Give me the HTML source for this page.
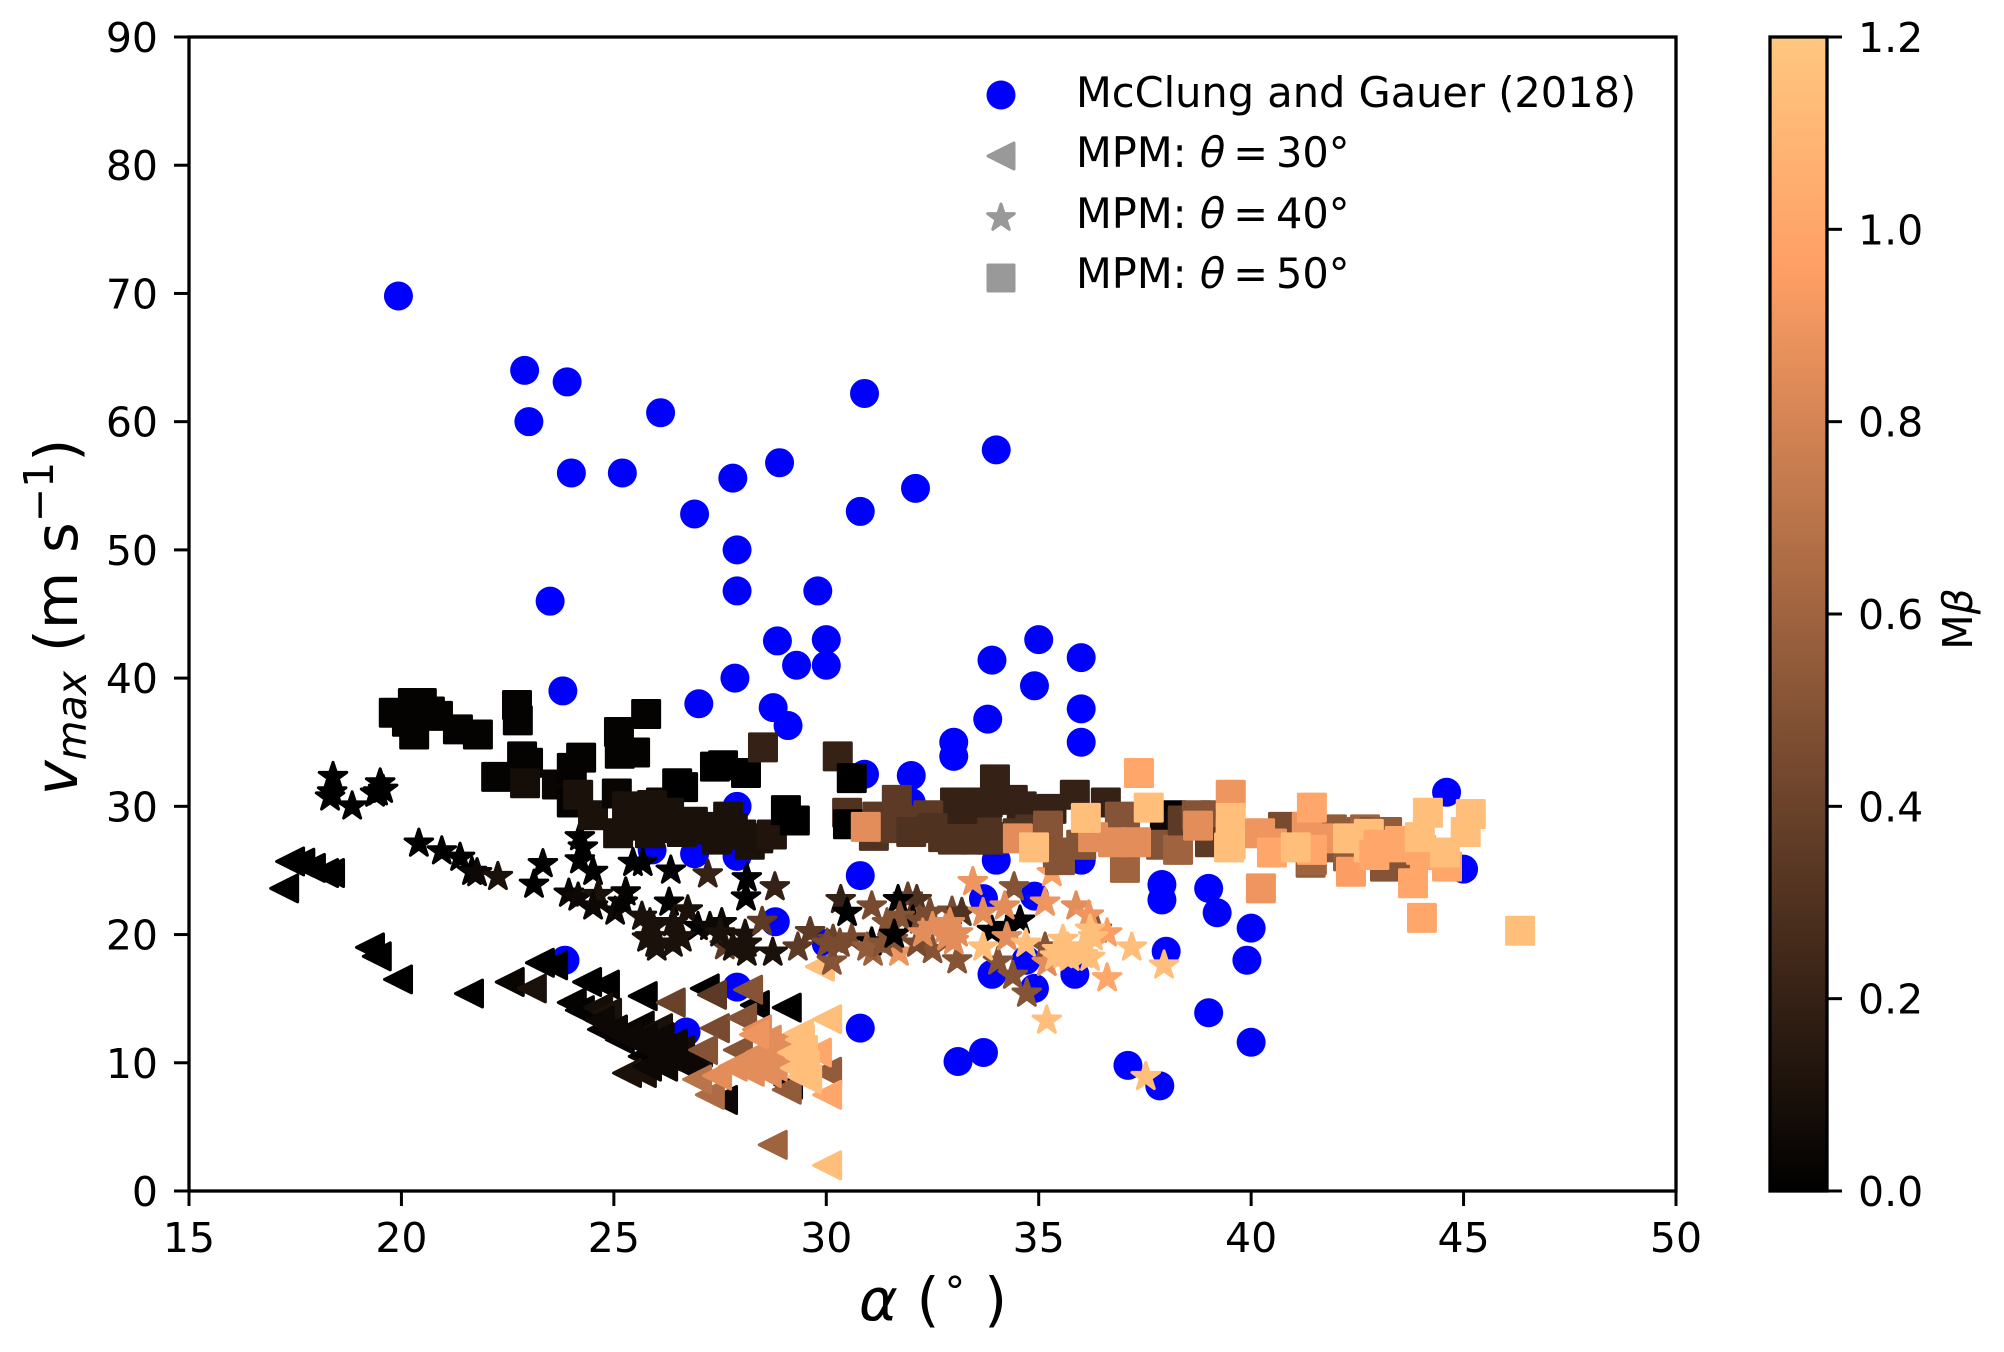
<!DOCTYPE html>
<html lang="en">
<head>
<meta charset="utf-8">
<title>Maximum velocity against runout angle</title>
<style>
html,body{margin:0;padding:0;background:#fff;}
svg{display:block;}
text{font-family:"DejaVu Sans","Liberation Sans",sans-serif;fill:#000;}
</style>
</head>
<body>
<svg id="chart" xmlns="http://www.w3.org/2000/svg" width="2004" height="1352" viewBox="0 0 2004 1352">
  <defs>
    <linearGradient id="copper" x1="0" y1="1" x2="0" y2="0">
      <stop offset="0" stop-color="#000000"/>
      <stop offset="0.8" stop-color="#ff9f65"/>
      <stop offset="1" stop-color="#ffc77f"/>
    </linearGradient>
  </defs>
  <g id="marks"></g>
  <rect x="189" y="37" width="1487" height="1154" fill="none" stroke="#000" stroke-width="3.3"/>
  <g id="xticks"></g>
  <g id="yticks"></g>
  <text x="933" y="1320" font-size="59" text-anchor="middle"><tspan font-style="italic">α</tspan> (<tspan dy="-14" dx="5" font-size="41">°</tspan><tspan dy="14" dx="19">)</tspan></text>
  <text transform="translate(77,617) rotate(-90)" font-size="59" text-anchor="middle"><tspan font-style="italic">v</tspan><tspan font-style="italic" font-size="41" dy="9">max</tspan><tspan dy="-9"> (m s</tspan><tspan font-size="41" dy="-24">−1</tspan><tspan dy="24">)</tspan></text>
  <g>
    <circle cx="1001" cy="95" r="14.5" fill="#0000ff"/>
    <path d="M988 156L1014 143L1014 169Z" fill="#999" stroke="#999" stroke-width="3" stroke-linejoin="round"/>
    <path id="legendStar" fill="#999" stroke="#999" stroke-width="3" stroke-linejoin="round"/>
    <rect x="988" y="265" width="26" height="26" fill="#999" stroke="#999" stroke-width="3" stroke-linejoin="round"/>
    <text x="1076" y="107" font-size="41.5">McClung and Gauer (2018)</text>
    <text x="1076" y="167" font-size="41.5">MPM: <tspan font-style="italic">θ</tspan><tspan dx="8">=</tspan><tspan dx="8">30°</tspan></text>
    <text x="1076" y="228" font-size="41.5">MPM: <tspan font-style="italic">θ</tspan><tspan dx="8">=</tspan><tspan dx="8">40°</tspan></text>
    <text x="1076" y="288" font-size="41.5">MPM: <tspan font-style="italic">θ</tspan><tspan dx="8">=</tspan><tspan dx="8">50°</tspan></text>
  </g>
  <rect x="1770" y="37" width="57" height="1154" fill="url(#copper)" stroke="#000" stroke-width="3.3"/>
  <g id="cticks"></g>
  <text transform="translate(1972,619) rotate(-90)" font-size="41" text-anchor="middle">M<tspan font-style="italic">β</tspan></text>
</svg>
<script>
const xTickLabels = [15,20,25,30,35,40,45,50];
const yTickLabels = [0,10,20,30,40,50,60,70,80,90];
const colorTickLabels = ["0.0","0.2","0.4","0.6","0.8","1.0","1.2"];

const mcclungAlpha = [19.93,22.9,23.9,23.0,24.0,25.2,26.1,26.9,27.8,28.9,30.9,30.8,32.1,34.0,23.5,27.9,27.9,29.8,28.85,30.0,29.3,30.0,23.8,27.0,27.85,28.75,29.1,33.9,35.0,34.9,36.0,36.0,36.0,33.0,33.0,33.8,30.9,32.0,32.0,27.9,44.6,45.0,37.9,37.9,39.0,39.2,40.0,39.9,38.0,39.0,40.0,37.1,37.85,33.1,33.7,30.8,36.0,34.0,28.8,23.85,27.9,26.7,33.7,34.9,33.9,34.9,35.85,30.0,34.7,25.9,26.9,27.9,30.8];
const mcclungSpeed = [69.8,64.0,63.1,60.0,56.0,56.0,60.7,52.8,55.6,56.8,62.2,53.0,54.8,57.8,46.0,50.0,46.8,46.8,42.9,43.0,41.0,41.0,39.0,38.0,40.0,37.7,36.3,41.4,43.0,39.4,41.6,37.6,35.0,35.0,33.9,36.8,32.5,32.4,30.3,30.0,31.1,25.1,23.9,22.7,23.6,21.7,20.5,18.0,18.7,13.9,11.6,9.8,8.2,10.1,10.8,12.7,25.8,25.8,21.0,18.0,15.9,12.4,22.8,23.0,16.9,15.8,16.9,19.3,18.0,26.6,26.3,26.1,24.6];

const triAlpha = [17.38,17.87,18.18,18.32,17.24,17.62,19.26,19.42,19.92,21.59,22.55,23.26,23.57,24.37,24.79,25.68,27.14,24.01,24.2,24.72,25.61,25.14,25.68,26.04,26.25,29.07,28.32,27.57,29.1,23.07,24.63,24.84,26.04,25.31,25.66,26.56,26.98,24.67,24.98,25.31,25.61,25.92,26.25,26.56,26.86,25.68,26.08,26.39,25.78,26.16,26.34,27.31,27.38,28.02,28.16,27.1,27.92,27.26,26.96,28.74,29.07,30.02,29.85,29.78,30.02,27.43,28.2,28.74,28.98,27.8,28.27,28.6,28.37,28.9,29.07,28.44,28.6,28.3,30.02,29.2,29.45,29.38,29.55,29.26,29.5,29.36,30.02,29.38,29.43];
const triSpeed = [25.7,25.2,24.8,24.8,23.6,25.6,19.0,18.3,16.5,15.4,16.3,17.8,17.6,16.3,16.1,15.2,15.8,14.7,14.1,12.6,12.9,11.8,10.5,11.2,11.0,14.3,14.5,7.1,8.3,15.8,14.3,13.9,12.7,9.2,9.2,11.0,10.8,13.3,12.6,12.0,11.5,11.0,10.5,10.0,9.7,12.0,12.0,11.5,9.7,9.7,14.7,15.3,12.7,13.5,15.7,11.0,11.0,7.5,8.7,3.6,7.9,9.3,17.5,10.8,7.5,9.0,9.3,9.7,10.8,9.7,10.2,11.8,12.6,11.5,10.0,10.8,9.2,12.2,2.0,10.8,11.0,11.8,8.7,9.6,9.8,12.3,13.4,10.4,8.9];
const triBeta = [0,0,0,0,0,0,0,0,0,0,0.03,0,0,0,0,0,0,0.02,0.02,0.02,0.03,0.02,0.02,0.03,0.05,0,0,0.05,0,0.1,0.08,0.1,0.1,0.1,0.1,0.08,0.1,0.05,0.05,0.05,0.05,0.05,0.05,0.05,0.05,0.05,0.05,0.05,0.05,0.05,0.4,0.35,0.45,0.5,0.5,0.5,0.5,0.65,0.7,0.6,0.55,0.55,1.15,1.0,1.0,0.85,0.85,0.85,0.85,0.85,0.85,0.85,0.85,0.85,0.85,0.85,0.85,0.9,1.15,1.15,1.15,1.15,1.15,1.15,1.15,1.15,1.15,1.15,1.15];

const starAlpha = [18.39,18.37,18.32,18.84,19.5,19.45,19.38,19.57,20.41,20.95,21.38,21.66,21.78,22.27,23.33,23.12,24.2,24.27,24.2,24.51,23.94,24.16,24.63,24.51,25.03,25.28,25.21,25.66,25.92,25.78,25.97,26.6,26.3,25.45,25.68,26.34,27.21,28.13,28.11,28.79,26.74,26.98,27.54,27.26,27.61,28.09,28.13,28.49,28.74,29.33,29.62,30.13,30.16,30.6,30.34,31.71,31.07,31.1,30.49,31.07,31.92,32.13,31.55,31.57,31.69,32.04,32.44,32.96,33.19,33.08,34.56,34.04,34.39,34.72,34.42,25.85,25.85,26.39,26.56,26.39,26.01,27.5,28.13,27.8,30.02,30.32,30.96,31.33,31.43,31.73,32.2,32.5,32.13,33.9,34.28,31.6,35.15,36.37,32.8,33.1,32.5,33.0,32.27,32.84,32.91,33.69,34.2,34.25,33.45,35.31,35.15,35.88,36.18,35.19,36.61,33.69,34.7,36.21,36.61,35.38,35.57,35.69,36.04,37.19,37.95,35.43,35.73,36.04,36.21,36.28,35.57,35.19,37.52];
const starSpeed = [32.3,31.1,30.7,30.0,31.8,31.1,31.0,31.3,27.1,26.5,26.0,24.9,24.8,24.5,25.5,23.9,27.6,26.8,25.8,24.9,23.2,22.9,23.1,22.2,21.8,23.3,22.5,21.4,20.6,19.7,19.3,19.7,22.5,25.6,25.6,25.0,24.7,24.4,22.9,23.7,21.9,20.6,20.9,20.6,19.1,20.0,18.6,21.0,18.6,19.0,20.2,17.9,19.6,19.7,22.7,18.6,22.2,18.6,21.7,19.4,22.9,22.7,20.7,19.6,22.7,21.1,21.7,21.8,21.7,18.0,21.1,17.9,16.8,15.4,23.7,20.9,19.8,20.9,19.8,19.3,19.0,20.1,19.3,19.0,19.3,19.3,19.0,19.3,20.9,21.4,21.1,18.8,19.3,20.3,20.6,20.0,19.0,20.4,20.4,20.1,20.6,19.5,20.1,19.8,20.9,21.7,22.2,19.8,24.1,24.8,22.5,22.2,21.5,17.8,20.1,19.0,19.3,20.4,16.6,18.3,18.4,19.0,18.4,19.0,17.6,18.8,18.2,19.0,18.2,19.8,19.6,13.3,8.9];
const starBeta = [0,0,0,0,0,0,0,0,0,0,0,0,0.05,0.1,0,0,0,0,0,0,0.03,0.05,0.1,0.05,0.05,0.02,0.02,0.1,0.1,0.1,0.1,0.1,0,0,0,0,0.2,0,0,0.2,0.1,0,0.05,0.05,0.35,0.1,0.1,0.35,0.1,0.35,0.35,0.5,0.4,0.45,0.2,0.9,0.45,0.6,0,0,0.4,0.3,0.5,0.5,0,0,0.45,0.45,0.3,0.5,0,0.5,0.5,0.5,0.5,0.1,0.1,0.1,0.1,0.1,0.1,0.1,0.1,0.1,0.45,0.45,0.55,0.5,0.5,0.5,0.45,0.5,0.45,0,0,0,0.5,0.5,0.85,0.85,0.85,0.85,0.85,0.85,0.85,0.85,0.85,0.85,0.9,0.95,0.9,0.85,0.9,0.85,0.95,1.15,1.15,1.15,1.0,1.15,1.15,1.15,1.15,1.15,1.15,1.15,1.15,1.15,1.15,1.15,1.15,1.15,1.15,1.0];

const squareAlpha = [19.82,20.27,20.48,20.86,20.13,20.3,20.67,21.33,21.8,22.72,22.74,22.84,22.98,22.23,22.91,23.66,24.01,24.23,24.01,24.16,24.51,25.07,25.31,25.1,25.12,25.76,25.5,25.14,26.11,25.85,26.49,26.63,27.38,27.57,28.11,28.51,26.86,27.69,27.43,28.2,25.6,26.0,26.3,26.6,27.0,27.2,27.8,28.0,28.4,26.3,25.6,25.9,28.72,29.05,29.26,30.27,30.6,30.49,30.51,31.12,31.66,31.78,32.04,32.75,32.98,33.03,33.45,33.97,34.39,35.85,36.58,35.03,33.78,33.43,33.85,33.2,33.8,34.6,35.3,32.4,31.2,31.5,32.0,32.5,33.5,34.0,34.5,34.8,38.13,37.97,35.45,35.22,37.03,37.03,36.91,37.88,38.28,38.39,38.72,39.15,39.03,35.5,36.0,41.9,41.7,42.3,43.2,43.7,41.4,40.77,40.75,41.43,42.28,42.6,43.15,42.68,42.91,43.2,43.81,30.93,34.51,34.89,36.28,36.75,37.29,37.36,37.59,36.11,38.75,39.52,39.52,39.52,39.52,39.48,40.21,40.49,40.49,40.23,41.31,41.59,41.43,41.43,41.05,42.35,42.28,42.77,42.77,43.43,44.09,43.81,44.61,43.0,43.5,44.0,42.9,43.97,44.16,44.56,45.05,45.17,44.02,46.33];
const squareSpeed = [37.3,38.06,38.06,37.05,36.6,35.6,37.4,36.0,35.6,37.9,36.7,33.9,33.4,32.3,31.8,31.7,33.0,33.8,30.3,30.9,29.3,31.0,30.0,27.9,35.8,37.2,34.2,34.1,30.3,27.9,31.8,31.5,33.1,33.2,32.6,34.6,28.8,29.2,27.4,27.0,28.5,28.3,28.6,28.0,28.2,28.4,28.3,27.8,27.5,29.5,29.8,30.1,27.8,29.7,28.9,33.9,32.2,29.5,28.6,27.7,30.5,28.8,28.9,27.6,27.4,30.3,30.3,32.1,30.5,30.9,30.3,29.7,28.5,28.2,27.4,29.8,30.3,30.0,29.8,29.3,29.2,28.3,28.0,28.3,27.4,27.6,27.9,28.2,29.3,28.5,26.4,28.5,27.8,25.2,29.2,27.0,26.6,28.9,29.3,29.3,27.2,25.8,27.0,28.2,26.8,26.5,26.3,25.9,25.6,27.1,28.4,25.8,26.1,28.0,25.3,28.2,28.0,28.0,26.8,28.4,27.5,26.8,27.6,27.2,27.2,32.6,29.9,29.1,28.5,30.9,29.1,27.8,27.0,26.8,27.9,27.1,26.4,23.6,28.4,27.5,29.9,26.6,26.8,24.9,27.5,27.85,26.8,26.8,26.2,24.0,25.3,27.0,27.3,26.6,26.2,27.6,29.5,26.4,28.0,29.4,21.3,20.3];
const squareBeta = [0.02,0.02,0.02,0.02,0.02,0.02,0.02,0.02,0.02,0.02,0.02,0.02,0.02,0.02,0.08,0.03,0.02,0.02,0.02,0.1,0.1,0.03,0.1,0.1,0.02,0.02,0.02,0.02,0.05,0.1,0,0,0,0,0,0.2,0.1,0.1,0.1,0.1,0.1,0.1,0.1,0.1,0.1,0.1,0.1,0.1,0.1,0.1,0.1,0.1,0.12,0,0,0.2,0,0.3,0,0.3,0.35,0.35,0.35,0.3,0.3,0.2,0.2,0.2,0.2,0.2,0.2,0.2,0.3,0.3,0.3,0.2,0.2,0.2,0.2,0.35,0.35,0.35,0.3,0.3,0.3,0.3,0.3,0.3,0,0.05,0.5,0.5,0.5,0.6,0.5,0.5,0.6,0.35,0.5,0.5,0.35,0.5,0.5,0.55,0.5,0.5,0.5,0.5,0.55,0.5,0.45,0.6,0.55,0.55,0.5,0.6,0.5,0.55,0.5,0.85,0.85,1.15,0.85,0.85,0.85,1.0,1.15,1.15,0.85,0.9,1.15,1.15,1.15,1.15,0.9,0.9,1.0,0.9,0.9,0.9,1.0,1.0,1.15,0.95,1.15,1.15,1.15,1.0,1.0,1.0,1.0,1.0,1.0,1.0,1.0,1.15,1.15,1.15,1.15,1.15,1.0,1.15];

const SVGNS = 'http://www.w3.org/2000/svg';
function xScale(a){ return 189 + (a - 15) * (1487 / 35); }
function yScale(v){ return 1191 - v * (1154 / 90); }
function cbScale(c){ return 1191 - c * (1154 / 1.2); }
function copper(c){
  const t = Math.min(1, Math.max(0, c / 1.2));
  const r = Math.min(1, 1.25 * t) * 255;
  const g = 0.7812 * t * 255;
  const b = 0.4975 * t * 255;
  return 'rgb(' + Math.round(r) + ',' + Math.round(g) + ',' + Math.round(b) + ')';
}
function starPath(cx, cy, R){
  let d = '';
  for (let i = 0; i < 10; i++) {
    const rad = i % 2 === 0 ? R : R * 0.381966;
    const ang = -Math.PI / 2 + i * Math.PI / 5;
    d += (i === 0 ? 'M' : 'L') + (cx + rad * Math.cos(ang)).toFixed(2) + ' ' + (cy + rad * Math.sin(ang)).toFixed(2);
  }
  return d + 'Z';
}
function make(tag, parent){
  const el = document.createElementNS(SVGNS, tag);
  parent.appendChild(el);
  return el;
}
const marks = document.getElementById('marks');

mcclungAlpha.forEach(function(a, i){
  const el = make('circle', marks);
  el.setAttribute('cx', xScale(a));
  el.setAttribute('cy', yScale(mcclungSpeed[i]));
  el.setAttribute('r', 14.5);
  el.setAttribute('fill', '#0000ff');
  
  
});
triAlpha.forEach(function(a, i){
  const x = xScale(a), y = yScale(triSpeed[i]), h = 13.5, col = copper(triBeta[i]);
  const el = make('path', marks);
  el.setAttribute('d', 'M' + (x - h) + ' ' + y + 'L' + (x + h) + ' ' + (y - h) + 'L' + (x + h) + ' ' + (y + h) + 'Z');
  el.setAttribute('fill', col);
  el.setAttribute('stroke', col);
  el.setAttribute('stroke-width', 3);
  el.setAttribute('stroke-linejoin', 'round');
  
  
});
starAlpha.forEach(function(a, i){
  const col = copper(starBeta[i]);
  const el = make('path', marks);
  el.setAttribute('d', starPath(xScale(a), yScale(starSpeed[i]), 14.5));
  el.setAttribute('fill', col);
  el.setAttribute('stroke', col);
  el.setAttribute('stroke-width', 3);
  el.setAttribute('stroke-linejoin', 'round');
  
  
});
squareAlpha.forEach(function(a, i){
  const col = copper(squareBeta[i]);
  const el = make('rect', marks);
  el.setAttribute('x', xScale(a) - 13.5);
  el.setAttribute('y', yScale(squareSpeed[i]) - 13.5);
  el.setAttribute('width', 27);
  el.setAttribute('height', 27);
  el.setAttribute('fill', col);
  el.setAttribute('stroke', col);
  el.setAttribute('stroke-width', 3);
  el.setAttribute('stroke-linejoin', 'round');
  
  
});

document.getElementById('legendStar').setAttribute('d', starPath(1001, 218, 14));

const xTicks = document.getElementById('xticks');
xTickLabels.forEach(function(v){
  const x = xScale(v);
  const line = make('line', xTicks);
  line.setAttribute('x1', x); line.setAttribute('x2', x);
  line.setAttribute('y1', 1191); line.setAttribute('y2', 1206);
  line.setAttribute('stroke', '#000'); line.setAttribute('stroke-width', 3);
  
  
  const t = make('text', xTicks);
  t.setAttribute('x', x); t.setAttribute('y', 1252);
  t.setAttribute('font-size', 41); t.setAttribute('text-anchor', 'middle');
  t.textContent = v;
  
  
});
const yTicks = document.getElementById('yticks');
yTickLabels.forEach(function(v){
  const y = yScale(v);
  const line = make('line', yTicks);
  line.setAttribute('x1', 174); line.setAttribute('x2', 189);
  line.setAttribute('y1', y); line.setAttribute('y2', y);
  line.setAttribute('stroke', '#000'); line.setAttribute('stroke-width', 3);
  
  
  const t = make('text', yTicks);
  t.setAttribute('x', 158); t.setAttribute('y', y + 15);
  t.setAttribute('font-size', 41); t.setAttribute('text-anchor', 'end');
  t.textContent = v;
  
  
});
const cTicks = document.getElementById('cticks');
colorTickLabels.forEach(function(v){
  const y = cbScale(parseFloat(v));
  const line = make('line', cTicks);
  line.setAttribute('x1', 1827); line.setAttribute('x2', 1842);
  line.setAttribute('y1', y); line.setAttribute('y2', y);
  line.setAttribute('stroke', '#000'); line.setAttribute('stroke-width', 3);
  
  
  const t = make('text', cTicks);
  t.setAttribute('x', 1858); t.setAttribute('y', y + 15);
  t.setAttribute('font-size', 41);
  t.textContent = v;
  
  
});
</script>
</body>
</html>
